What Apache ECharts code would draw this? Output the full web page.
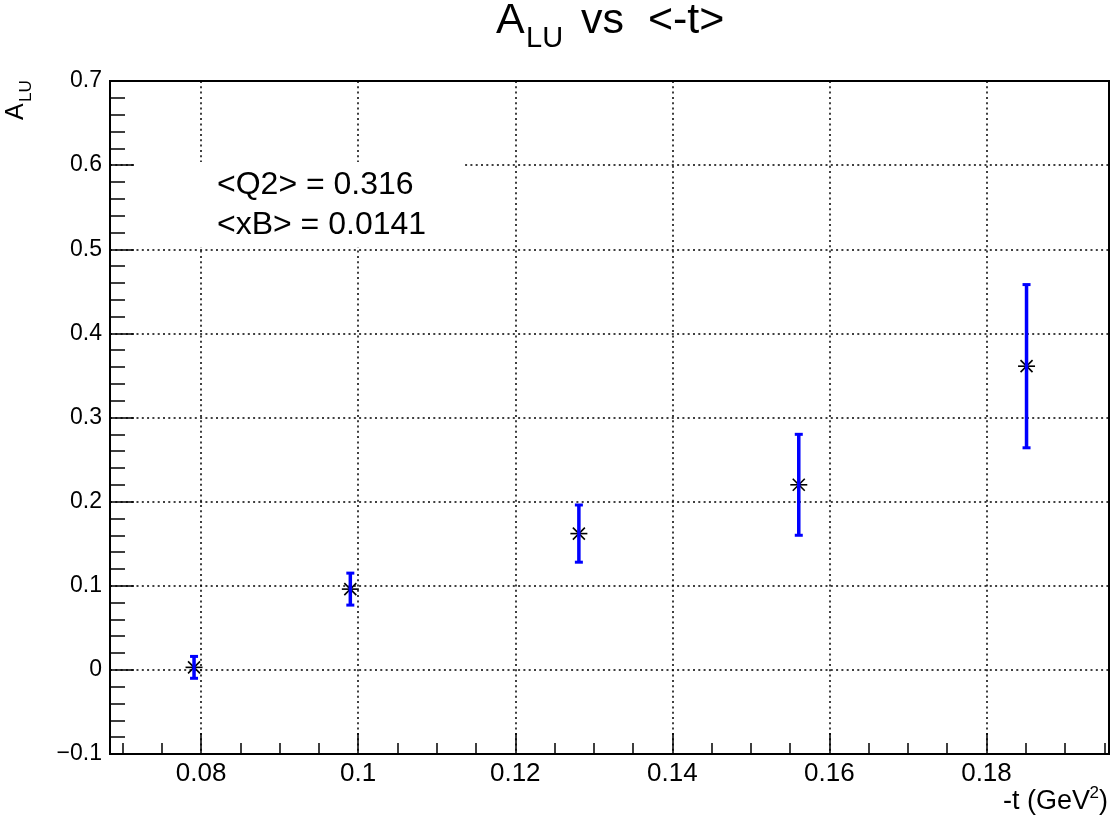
<!DOCTYPE html>
<html>
<head>
<meta charset="utf-8">
<script src="https://cdn.jsdelivr.net/npm/echarts@6/dist/echarts.min.js"></script>
<style>
  html, body { margin: 0; padding: 0; background: #fff; }
  #chart { width: 1113px; height: 822px; }
</style>
</head>
<body>
<div id="chart"></div>
<script>
// Beam-spin asymmetry A_LU versus <-t>
const tValues   = [0.0791, 0.0990, 0.1281, 0.1561, 0.1851];
const aluValues = [0.003, 0.096, 0.162, 0.220, 0.361];
const aluErrors = [0.013, 0.019, 0.034, 0.060, 0.097];

const xRange = [0.0684, 0.1956];
const xMajorTicks = [0.08, 0.10, 0.12, 0.14, 0.16, 0.18];
const xMinorTicks = [0.07, 0.075, 0.085, 0.09, 0.095, 0.105, 0.11, 0.115, 0.125, 0.13,
                     0.135, 0.145, 0.15, 0.155, 0.165, 0.17, 0.175, 0.185, 0.19, 0.195];
const yRange = [-0.1, 0.7];
const yStep = 0.1;
const infoLines = ['<Q2> = 0.316', '<xB> = 0.0141'];

const FONT = '"Liberation Sans", Arial, Helvetica, sans-serif';
const BLACK = '#000';
const dotted = { color: BLACK, width: 1.5, type: [2, 3.3] };

function fmtX(v) { return String(+(+v).toFixed(3)); }
function fmtY(v) {
  const r = +(+v).toFixed(2);
  return r < 0 ? '\u2212' + String(-r) : String(Math.abs(r));
}

// star marker with a vertical error bar and end caps
function renderPoint(params, api) {
  const x = api.value(0), y = api.value(1), e = api.value(2);
  const c = api.coord([x, y]);
  const hi = api.coord([x, y + e]);
  const lo = api.coord([x, y - e]);
  const star = { stroke: BLACK, lineWidth: 1.6 };
  const bar = { stroke: '#0000ff', lineWidth: 3.5 };
  const cap = { stroke: '#0000ff', lineWidth: 3 };
  const h = 8.5, d = 6;
  return {
    type: 'group',
    children: [
      { type: 'line', shape: { x1: c[0] - h, y1: c[1], x2: c[0] + h, y2: c[1] }, style: star },
      { type: 'line', shape: { x1: c[0] - d, y1: c[1] - d, x2: c[0] + d, y2: c[1] + d }, style: star },
      { type: 'line', shape: { x1: c[0] - d, y1: c[1] + d, x2: c[0] + d, y2: c[1] - d }, style: star },
      { type: 'line', shape: { x1: c[0], y1: c[1] - h, x2: c[0], y2: c[1] + h }, style: star },
      { type: 'line', shape: { x1: c[0], y1: hi[1], x2: c[0], y2: lo[1] }, style: bar },
      { type: 'line', shape: { x1: c[0] - 4, y1: hi[1], x2: c[0] + 4, y2: hi[1] }, style: cap },
      { type: 'line', shape: { x1: c[0] - 4, y1: lo[1], x2: c[0] + 4, y2: lo[1] }, style: cap }
    ]
  };
}

const chart = echarts.init(document.getElementById('chart'), null, { renderer: 'canvas' });

const txt = (text, x, y, size, extra) => Object.assign({
  type: 'text', x: x, y: y, z: 10,
  style: { text: text, fill: BLACK, font: size + 'px ' + FONT, align: 'left', verticalAlign: 'middle' }
}, extra || {});

const rtxt = (text, x, y, size) => ({
  type: 'text', x: x, y: y, z: 10,
  style: { text: text, fill: BLACK, font: size + 'px ' + FONT, align: 'right', verticalAlign: 'middle' }
});

chart.setOption({
  backgroundColor: '#fff',
  animation: false,
  grid: {
    left: 110, right: 4, top: 81, bottom: 68,
    show: true, borderColor: BLACK, borderWidth: 2, backgroundColor: 'transparent',
    containLabel: false, outerBoundsMode: 'none'
  },
  xAxis: [
    {
      type: 'value', position: 'bottom', min: xRange[0], max: xRange[1],
      axisLine: { show: true, onZero: false, lineStyle: { color: BLACK, width: 2 } },
      axisTick: { show: true, inside: true, length: 21, customValues: xMajorTicks, lineStyle: { color: BLACK, width: 1.5 } },
      axisLabel: { show: true, customValues: xMajorTicks, formatter: fmtX, color: BLACK, fontSize: 26, fontFamily: FONT, margin: 7 },
      splitLine: { show: true, lineStyle: dotted },
      minorTick: { show: false }
    },
    {
      type: 'value', position: 'bottom', min: xRange[0], max: xRange[1],
      axisLine: { show: false, onZero: false },
      axisTick: { show: true, inside: true, length: 11, customValues: xMinorTicks, lineStyle: { color: BLACK, width: 1.5 } },
      axisLabel: { show: false },
      splitLine: { show: false }
    }
  ],
  yAxis: {
    type: 'value', min: yRange[0], max: yRange[1], interval: yStep,
    axisLine: { show: true, onZero: false, lineStyle: { color: BLACK, width: 2 } },
    axisTick: { show: true, inside: true, length: 24, lineStyle: { color: BLACK, width: 1.5 } },
    minorTick: { show: true, splitNumber: 5, length: 15, lineStyle: { color: BLACK, width: 1.5 } },
    axisLabel: { show: true, formatter: fmtY, color: BLACK, fontSize: 23, fontFamily: FONT, margin: 8,
                 showMinLabel: true, showMaxLabel: true },
    splitLine: { show: true, lineStyle: dotted }
  },
  series: [{
    type: 'custom',
    name: 'A_LU',
    xAxisIndex: 0,
    renderItem: renderPoint,
    encode: { x: 0, y: 1 },
    data: tValues.map((t, i) => [t, aluValues[i], aluErrors[i]]),
    z: 5
  }],
  graphic: [
    // white panel behind the kinematics text
    { type: 'rect', z: 1, shape: { x: 136, y: 162, width: 326, height: 85 }, style: { fill: '#fff' } },
    txt(infoLines[0], 217, 185, 32),
    txt(infoLines[1], 217, 225, 32),
    // title
    txt('A', 496, 21, 43),
    txt('LU', 526, 39, 29),
    txt('vs  <-t>', 581, 21, 43),
    // y axis title (rotated)
    txt('A', 16, 120, 25, { rotation: Math.PI / 2 }),
    txt('LU', 26, 102, 17, { rotation: Math.PI / 2 }),
    // x axis title
    rtxt(')', 1108, 802, 27),
    rtxt('2', 1099, 793, 17),
    rtxt('-t (GeV', 1090, 802, 27)
  ]
});
</script>
</body>
</html>
